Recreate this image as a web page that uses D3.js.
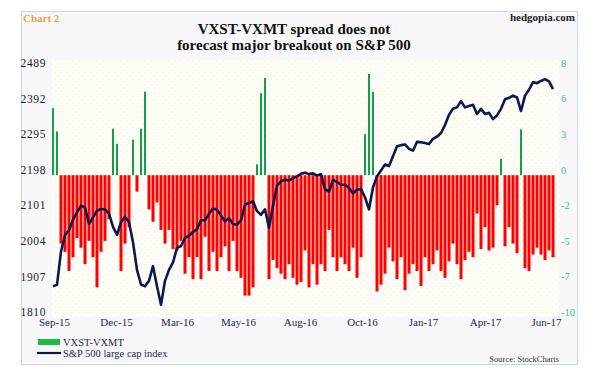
<!DOCTYPE html>
<html>
<head>
<meta charset="utf-8">
<script src="https://cdn.jsdelivr.net/npm/d3@7"></script>
<style>
  body { margin: 0; background: #fff; }
  svg text { font-family: "Liberation Serif", "DejaVu Serif", serif; }
</style>
</head>
<body>
<svg id="chart" width="601" height="375"></svg>
<script>
// VXST-VXMT spread (right axis), one value per sample
const spread = [
  4.9, 3.2, -5.0, -5.6, -7.0, -6.0, -4.6, -5.3, -6.5, -4.8,
  -6.0, -8.2, -5.6, -4.8, -3.2, 3.4, 2.3, -7.0, -5.0, -3.8,
  2.6, -1.2, 3.4, 6.1, -2.5, -3.4, -2.0, -4.0, -5.0, -4.0,
  -5.4, -5.5, -4.8, -7.2, -6.0, -7.6, -6.0, -7.6, -4.5, -7.0,
  -5.6, -7.0, -6.0, -5.2, -7.0, -4.8, -7.0, -7.5, -8.8, -8.8,
  -8.2, 0.8, 6.0, 7.1, -7.6, -6.2, -6.8, -7.2, -7.6, -6.5,
  -7.5, -8.0, -7.8, -5.5, -8.2, -6.5, -8.0, -6.5, -7.0, -4.0,
  -6.0, -7.0, -6.0, -6.5, -7.0, -5.3, -7.5, -6.0, 3.0, 7.4,
  6.1, -8.5, -8.0, -7.2, -5.3, -6.3, -7.6, -6.0, -8.4, -7.2,
  -6.5, -7.0, -8.1, -6.0, -7.0, -6.5, -5.5, -7.0, -7.5, -6.3,
  -5.0, -6.5, -7.6, -6.2, -5.6, -6.0, -2.8, -5.4, -3.8, -5.5,
  -5.3, -2.2, 1.2, -5.2, -3.8, -5.0, -5.7, 3.35, -6.8, -7.0,
  -5.8, -5.3, -5.8, -6.2, -5.5, -6.0
];

// S&P 500 large cap index (left axis)
const spx = [
  1880, 1884, 1975, 2020, 2033, 2062, 2082, 2100, 2095, 2050,
  2068, 2086, 2091, 2090, 2078, 2042, 2020, 2055, 2070, 2055,
  2000, 1925, 1885, 1880, 1895, 1935, 1880, 1830, 1895, 1925,
  1945, 1985, 1990, 2012, 2018, 2028, 2036, 2060, 2060, 2078,
  2093, 2089, 2073, 2057, 2066, 2050, 2048, 2060, 2103, 2107,
  2112, 2085, 2075, 2090, 2040, 2100, 2155, 2166, 2171, 2168,
  2175, 2180, 2187, 2190, 2186, 2188, 2182, 2186, 2145, 2138,
  2170, 2164, 2157, 2157, 2148, 2133, 2144, 2145, 2123, 2090,
  2150, 2180, 2196, 2212, 2208, 2235, 2262, 2265, 2267, 2255,
  2250, 2274, 2273, 2271, 2268, 2282, 2288, 2298, 2320, 2348,
  2364, 2368, 2385, 2368, 2372, 2375, 2350, 2364, 2350, 2353,
  2336, 2346, 2364, 2390, 2394, 2400, 2395, 2358, 2400, 2416,
  2437, 2434, 2440, 2445, 2439, 2418
];

// category axis labels and the sample index each one sits on
const monthLabels = ["Sep-15", "Dec-15", "Mar-16", "May-16", "Aug-16", "Oct-16", "Jan-17", "Apr-17", "Jun-17"];
const monthIdx = [0.25, 15.75, 31, 46.25, 61.75, 77.25, 92.5, 108, 123.25];

const leftTicks = d3.range(8).map(k => 1810 + 97 * k);
const rightTicks = d3.range(8).map(k => -10 + 2.6 * k);

const svg = d3.select("#chart");
const plot = {left: 51, right: 555, top: 63, bottom: 312};
const n = spread.length;

// backgrounds
const defs = svg.append("defs");
let dots = defs.append("pattern").attr("id", "dots")
    .attr("width", 6).attr("height", 6).attr("patternUnits", "userSpaceOnUse");
dots.append("rect").attr("width", 6).attr("height", 6).attr("fill", "#fffefa");
dots.append("circle").attr("cx", 1).attr("cy", 1).attr("r", 0.7).attr("fill", "#f6efca");
dots.append("circle").attr("cx", 4).attr("cy", 4).attr("r", 0.7).attr("fill", "#f6efca");

svg.append("rect").attr("x", 21.5).attr("y", 11.5).attr("width", 556).attr("height", 353)
    .attr("fill", "#f8f8fa").attr("stroke", "#c9d5ea");
svg.append("rect").attr("x", 52).attr("y", 60).attr("width", 507).attr("height", 257)
    .attr("fill", "url(#dots)");

// scales
let xBand = d3.scaleBand().domain(d3.range(n)).range([plot.left, plot.right]);
let xLin = d3.scaleLinear().domain([-0.5, n - 0.5]).range([plot.left, plot.right]);
let yLeft = d3.scaleLinear().domain([1810, 2489]).range([plot.bottom, plot.top]);
let yRight = d3.scaleLinear().domain([-10, 8.2]).range([plot.bottom, plot.top]);

// bars: red ones fill the band less a gap, green spikes are thinner
svg.append("g").selectAll("rect").data(spread).enter().append("rect")
    .attr("x", (d, i) => d >= 0 ? xBand(i) + 1 : xBand(i) + 0.5)
    .attr("width", d => d >= 0 ? 2 : xBand.bandwidth() - 1)
    .attr("y", d => yRight(Math.max(0, d)))
    .attr("height", d => Math.abs(yRight(d) - yRight(0)))
    .attr("fill", d => d >= 0 ? "#12a04a" : "#ff0000");

// S&P line
let line = d3.line()
    .x((d, i) => xBand(i) + xBand.bandwidth() / 2)
    .y(d => yLeft(d));
svg.append("path").datum(spx)
    .attr("d", line)
    .attr("fill", "none")
    .attr("stroke", "#0b1a4e")
    .attr("stroke-width", 2.6)
    .attr("stroke-linejoin", "round");

// axes
let axisL = svg.append("g").attr("transform", "translate(46,0)")
    .call(d3.axisLeft(yLeft).tickValues(leftTicks).tickSize(0).tickPadding(0)
        .tickFormat(d3.format("d")));
axisL.select(".domain").remove();
axisL.selectAll("text").attr("font-size", 11.5).attr("fill", "#222")
    .attr("font-family", "Liberation Serif").attr("letter-spacing", 0.6);

let axisR = svg.append("g").attr("transform", "translate(561,0)")
    .call(d3.axisRight(yRight).tickValues(rightTicks).tickSize(0).tickPadding(0)
        .tickFormat(d => Math.round(d)));
axisR.select(".domain").remove();
axisR.selectAll("text").attr("font-size", 10.5).attr("fill", "#3fbf86")
    .attr("font-family", "Liberation Serif");

let axisX = svg.append("g").attr("transform", "translate(0,318)")
    .call(d3.axisBottom(xLin).tickValues(monthIdx).tickSize(0).tickPadding(0)
        .tickFormat((d, i) => monthLabels[i]));
axisX.select(".domain").remove();
axisX.selectAll("text").attr("font-size", 11).attr("fill", "#1c2750")
    .attr("font-family", "Liberation Serif");

// titles
svg.append("text").attr("x", 23).attr("y", 22).text("Chart 2")
    .attr("font-size", 11).attr("font-weight", "bold").attr("fill", "#f2a24e");
svg.append("text").attr("x", 575).attr("y", 21).text("hedgopia.com")
    .attr("text-anchor", "end").attr("font-size", 11).attr("font-weight", "bold").attr("fill", "#222");
let title = svg.append("text").attr("text-anchor", "middle")
    .attr("font-size", 15).attr("font-weight", "bold").attr("fill", "#111");
title.append("tspan").attr("x", 294).attr("y", 34).text("VXST-VXMT spread does not");
title.append("tspan").attr("x", 294).attr("y", 50).text("forecast major breakout on S&P 500");

// legend
svg.append("rect").attr("x", 38).attr("y", 339).attr("width", 22).attr("height", 6).attr("fill", "#1fb84a");
svg.append("text").attr("x", 63).attr("y", 346).text("VXST-VXMT")
    .attr("font-size", 10.5).attr("fill", "#1c2750");
svg.append("line").attr("x1", 37).attr("x2", 61).attr("y1", 353).attr("y2", 353)
    .attr("stroke", "#0b1a4e").attr("stroke-width", 2.2);
svg.append("text").attr("x", 63).attr("y", 357).text("S&P 500 large cap index")
    .attr("font-size", 10.5).attr("fill", "#1c2750");
svg.append("text").attr("x", 559).attr("y", 362).text("Source: StockCharts")
    .attr("text-anchor", "end").attr("font-size", 8.5).attr("fill", "#333");
</script>
</body>
</html>
